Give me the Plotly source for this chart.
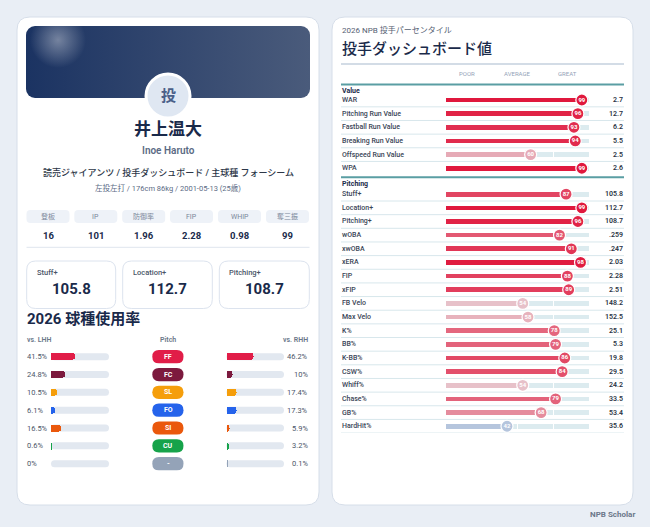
import base64
import plotly.graph_objects as go

W, H = 650, 527
FONT = "Roboto, 'Noto Sans CJK JP', sans-serif"

# ---------------- data ----------------
player_name = "井上温大"
player_roman = "Inoe Haruto"
team_line = "読売ジャイアンツ / 投手ダッシュボード / 主球種 フォーシーム"
bio_line = "左投左打 / 176cm 86kg / 2001-05-13 (25歳)"
avatar_char = "投"

stat_labels = ["登板", "IP", "防御率", "FIP", "WHIP", "奪三振"]
stat_values = ["16", "101", "1.96", "2.28", "0.98", "99"]

plus_labels = ["Stuff+", "Location+", "Pitching+"]
plus_values = ["105.8", "112.7", "108.7"]

usage_title = "2026 球種使用率"
pitch_codes = ["FF", "FC", "SL", "FO", "SI", "CU", "-"]
pitch_colors = ["#e11d48", "#7c1a3e", "#f59e0b", "#2563eb", "#ea580c", "#16a34a", "#94a3b8"]
usage_lhh = [41.5, 24.8, 10.5, 6.1, 16.5, 0.6, 0]
usage_rhh = [46.2, 10, 17.4, 17.3, 5.9, 3.2, 0.1]

pct_subtitle = "2026 NPB 投手パーセンタイル"
pct_title = "投手ダッシュボード値"
scale_labels = ["POOR", "AVERAGE", "GREAT"]

value_metrics = ["WAR", "Pitching Run Value", "Fastball Run Value",
                 "Breaking Run Value", "Offspeed Run Value", "WPA"]
value_pct = [99, 96, 93, 94, 60, 99]
value_vals = ["2.7", "12.7", "6.2", "5.5", "2.5", "2.6"]

pitching_metrics = ["Stuff+", "Location+", "Pitching+", "wOBA", "xwOBA", "xERA",
                    "FIP", "xFIP", "FB Velo", "Max Velo", "K%", "BB%", "K-BB%",
                    "CSW%", "Whiff%", "Chase%", "GB%", "HardHit%"]
pitching_pct = [87, 99, 96, 82, 91, 98, 88, 89, 54, 58, 78, 79, 86, 84, 54, 79, 68, 42]
pitching_vals = ["105.8", "112.7", "108.7", ".259", ".247", "2.03", "2.28", "2.51",
                 "148.2", "152.5", "25.1", "5.3", "19.8", "29.5", "24.2", "33.5",
                 "53.4", "35.6"]

footer = "NPB Scholar"

# ---------------- helpers ----------------
def px(x):
    return x / W


def py(y):
    return 1 - y / H


shapes = []
annotations = []


def rrect(x0, y0, x1, y1, r, fill, line=None, lw=0, layer="below"):
    p = (f"M {px(x0 + r)},{py(y0)} L {px(x1 - r)},{py(y0)} "
         f"Q {px(x1)},{py(y0)} {px(x1)},{py(y0 + r)} L {px(x1)},{py(y1 - r)} "
         f"Q {px(x1)},{py(y1)} {px(x1 - r)},{py(y1)} L {px(x0 + r)},{py(y1)} "
         f"Q {px(x0)},{py(y1)} {px(x0)},{py(y1 - r)} L {px(x0)},{py(y0 + r)} "
         f"Q {px(x0)},{py(y0)} {px(x0 + r)},{py(y0)} Z")
    shapes.append(dict(type="path", path=p, xref="paper", yref="paper",
                       fillcolor=fill, line=dict(color=line or fill, width=lw), layer=layer))


def hline(x0, x1, y, color, width, yref="paper"):
    yy = py(y) if yref == "paper" else y
    shapes.append(dict(type="line", xref="paper", yref=yref, x0=px(x0), x1=px(x1),
                       y0=yy, y1=yy, line=dict(color=color, width=width), layer="below"))


def ann(text, x, y, size, color, xanchor="center", weight=400, yref="paper"):
    yy = py(y) if yref == "paper" else y
    annotations.append(dict(text=text, x=px(x), y=yy, xref="paper", yref=yref,
                            xanchor=xanchor, yanchor="middle", showarrow=False,
                            font=dict(size=size, color=color, family=FONT, weight=weight)))


def hex2rgb(h):
    h = h.lstrip("#")
    return [int(h[i:i + 2], 16) for i in (0, 2, 4)]


def blend(a, b, t):
    ca, cb = hex2rgb(a), hex2rgb(b)
    return "#" + "".join(f"{round(ca[i] + (cb[i] - ca[i]) * t):02x}" for i in range(3))


def pct_color(p):
    if p >= 50:
        return blend("#e8d0d5", "#e0143a", (p - 50) / 50)
    return blend("#cdd6e3", "#3a6bc0", (50 - p) / 50)


# ---------------- cards ----------------
rrect(17, 17, 319, 505, 13, "#ffffff", "#d6dee9", 1)
rrect(332, 17, 633, 505, 13, "#ffffff", "#d6dee9", 1)

# banner as gradient svg image
svg = ('<svg xmlns="http://www.w3.org/2000/svg" width="284" height="72" viewBox="0 0 284 72">'
       '<defs><linearGradient id="g" x1="0" y1="0" x2="1" y2="0">'
       '<stop offset="0" stop-color="#1b3362"/><stop offset="1" stop-color="#4a5b7b"/></linearGradient>'
       '<radialGradient id="r" cx="0.5" cy="0.5" r="0.5">'
       '<stop offset="0" stop-color="#ffffff" stop-opacity="0.38"/>'
       '<stop offset="1" stop-color="#ffffff" stop-opacity="0"/></radialGradient>'
       '<clipPath id="c"><rect width="284" height="72" rx="9"/></clipPath></defs>'
       '<rect width="284" height="72" rx="9" fill="url(#g)"/>'
       '<circle cx="32" cy="14" r="28" fill="url(#r)" clip-path="url(#c)"/></svg>')
src = "data:image/svg+xml;base64," + base64.b64encode(svg.encode()).decode()
images = [dict(source=src, xref="paper", yref="paper", x=px(26), y=py(26),
               sizex=284 / W, sizey=72 / H, xanchor="left", yanchor="top",
               sizing="stretch", layer="above")]

# avatar
shapes.append(dict(type="circle", xref="paper", yref="paper",
                   x0=px(168 - 22), x1=px(168 + 22), y0=py(96 + 22), y1=py(96 - 22),
                   fillcolor="#dfe7f2", line=dict(color="#ffffff", width=3), layer="above"))
ann(avatar_char, 168, 96, 15, "#4a5f88", weight=700)

ann(player_name, 168, 129, 17, "#1a2a4a", weight=700)
ann(player_roman, 168, 150, 10, "#5b6b85", weight=600)
ann(team_line, 168, 172, 9, "#2d3748", weight=500)
ann(bio_line, 168, 188, 7.5, "#5b6b85")

# stat boxes
box_x0 = [26.5, 74.3, 122.2, 170, 218, 266]
for i, (lab, val) in enumerate(zip(stat_labels, stat_values)):
    x0 = box_x0[i]
    rrect(x0, 210, x0 + 43, 223, 4, "#eef2f8")
    ann(lab, x0 + 21.5, 216.5, 7, "#7a879a")
    ann(val, x0 + 21.5, 236, 9.5, "#1a2a4a", weight=700)
hline(26.5, 309.5, 247.3, "#dfe5ee", 1)

plus_boxes = [(26.7, 115.7), (122.7, 212.3), (219.3, 309.3)]
for (x0, x1), lab, val in zip(plus_boxes, plus_labels, plus_values):
    rrect(x0, 261, x1, 308.5, 9, "#ffffff", "#dce3ee", 1)
    ann(lab, x0 + 8, 272, 7.5, "#4a5568", xanchor="left", weight=500)
    ann(val, (x0 + x1) / 2, 289, 15, "#1a2a4a", weight=700)

ann(usage_title, 25, 319.5, 15, "#1a2a4a", xanchor="left", weight=700)
ann("vs. LHH", 25, 340, 7, "#6b7789", xanchor="left", weight=600)
ann("Pitch", 168, 340, 7, "#6b7789", weight=600)
ann("vs. RHH", 310, 340, 7, "#6b7789", xanchor="right", weight=600)

rows = list(range(len(pitch_codes)))
U_TOP, U_STEP = 356.7, 17.83
for i in rows:
    yc = U_TOP + U_STEP * i
    ann(f"{usage_lhh[i]:g}%", 25, yc, 7.5, "#4a5568", xanchor="left")
    ann(f"{usage_rhh[i]:g}%", 310, yc, 7.5, "#4a5568", xanchor="right")
    # rounded tracks (both ends) and pitch pills
    rrect(51, yc - 3.5, 109, yc + 3.5, 3.5, "#e2e8f0")
    rrect(226.5, yc - 3.5, 284, yc + 3.5, 3.5, "#e2e8f0")
    rrect(152.3, yc - 6.6, 183.5, yc + 6.6, 6.6, pitch_colors[i], layer="above")
    ann(pitch_codes[i], 168, yc, 7, "#ffffff", weight=700)

# ---------------- right card texts ----------------
ann(pct_subtitle, 340, 30, 8, "#566173", xanchor="left")
ann(pct_title, 340, 48.5, 15, "#1a2a4a", xanchor="left", weight=500)
hline(341, 624, 64, "#d3dce6", 2)
for lab, x in zip(scale_labels, [467, 517, 567]):
    ann(lab, x, 74, 6, "#94a3b8")
hline(341, 624, 84.5, "#5a9ea3", 2)

ROW0, STEP = 100.0, 13.65
value_idx = list(range(len(value_metrics)))
pitching_idx = [6.9 + j for j in range(len(pitching_metrics))]

ann("Value", 340, 90.5, 7, "#1a2a4a", xanchor="left", weight=700)
ann("Pitching", 340, 184, 7, "#1a2a4a", xanchor="left", weight=700)
hline(341, 624, 177.3, "#5a9ea3", 2)

all_idx = value_idx + pitching_idx
all_names = value_metrics + pitching_metrics
all_vals = value_vals + pitching_vals
all_pct = value_pct + pitching_pct
for k, (yi, name, v) in enumerate(zip(all_idx, all_names, all_vals)):
    ann(name, 340, yi, 7, "#3a4556", xanchor="left", weight=500, yref="y2")
    ann(v, 625, yi, 7, "#2a3344", xanchor="right", weight=600, yref="y2")
    if k != len(value_idx) - 1:
        hline(341, 624, yi + 0.5, "#d8e7ec", 1, yref="y2")

ann(footer, 637, 514.3, 8, "#6b7789", xanchor="right", weight=700)

# ---------------- traces ----------------
fig = go.Figure()
NOH = dict(hoverinfo="skip", showlegend=False)

# usage bars (left / right)
for xa, vals in (("x", usage_lhh), ("x2", usage_rhh)):
    fig.add_trace(go.Bar(x=vals, y=rows, orientation="h", xaxis=xa, yaxis="y",
                         width=0.39, marker=dict(color=pitch_colors, cornerradius="50%",
                                                 line=dict(width=0)), **NOH))

# percentile bars
X_MIN, X_MAX = -4.46, 104.46
span = X_MAX - X_MIN
cuts = [X_MIN, X_MIN + 0.25 * span, X_MIN + 0.5 * span, X_MIN + 0.75 * span, X_MAX]
gap = 0.8
tb, tx, ty = [], [], []
for yi in all_idx:
    for s in range(4):
        a = cuts[s] + (gap / 2 if s > 0 else 0)
        b = cuts[s + 1] - (gap / 2 if s < 3 else 0)
        tb.append(a)
        tx.append(b - a)
        ty.append(yi)
fig.add_trace(go.Bar(x=tx, y=ty, base=tb, orientation="h", xaxis="x4", yaxis="y2",
                     width=0.34, marker=dict(color="#dcebef", line=dict(width=0)), **NOH))
cols = [pct_color(p) for p in all_pct]
fig.add_trace(go.Bar(x=[p - X_MIN for p in all_pct], y=all_idx, base=[X_MIN] * len(all_pct),
                     orientation="h", xaxis="x4", yaxis="y2", width=0.34,
                     marker=dict(color=cols, line=dict(width=0)), **NOH))
fig.add_trace(go.Scatter(x=all_pct, y=all_idx, xaxis="x4", yaxis="y2", mode="markers+text",
                         text=[str(p) for p in all_pct], textposition="middle center",
                         textfont=dict(color="#ffffff", size=6, family=FONT, weight=700),
                         marker=dict(size=12, color=cols, line=dict(color="#ffffff", width=1.2)),
                         cliponaxis=False, **NOH))

ax = dict(visible=False, showgrid=False, zeroline=False, fixedrange=True)
u_top = U_TOP - U_STEP / 2
u_bot = U_TOP + U_STEP * 6.5
p_top, p_bot = 86, 433

fig.update_layout(
    width=W, height=H, autosize=False,
    margin=dict(l=0, r=0, t=0, b=0),
    paper_bgcolor="#e9eef5", plot_bgcolor="rgba(0,0,0,0)",
    barmode="overlay", bargap=0,
    font=dict(family=FONT),
    shapes=shapes, annotations=annotations, images=images,
    xaxis=dict(domain=[px(51), px(109)], range=[0, 100], anchor="y", **ax),
    xaxis2=dict(domain=[px(226.5), px(284)], range=[0, 100], anchor="y", **ax),
    xaxis4=dict(domain=[px(446), px(589)], range=[X_MIN, X_MAX], anchor="y2", **ax),
    yaxis=dict(domain=[py(u_bot), py(u_top)], range=[6.5, -0.5], anchor="x", **ax),
    yaxis2=dict(domain=[py(p_bot), py(p_top)],
                range=[(p_bot - ROW0) / STEP, (p_top - ROW0) / STEP], anchor="x4", **ax),
)

fig.write_html("out.html", config={"displayModeBar": False},
               post_script="document.body.style.margin='0';document.body.style.background='#e9eef5';")
